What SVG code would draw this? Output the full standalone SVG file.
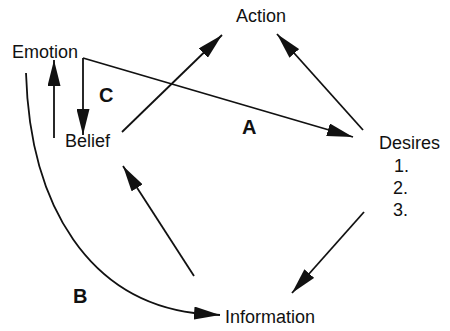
<svg xmlns="http://www.w3.org/2000/svg" width="450" height="331" viewBox="0 0 450 331">
<style>
.t{font-family:"Liberation Sans",Arial,sans-serif;font-size:18px;fill:#111}
.b{font-family:"Liberation Sans",Arial,sans-serif;font-size:20px;font-weight:bold;fill:#111}
.c{fill:none;stroke:#111;stroke-width:1.8}
</style>
<defs>
<marker id="ah" viewBox="0 0 26 13" refX="26" refY="6.5" markerWidth="26" markerHeight="13" markerUnits="userSpaceOnUse" orient="auto">
<path d="M0,0 L26,6.5 L0,13 z" fill="#111"/>
</marker>
</defs>
<rect width="450" height="331" fill="#fff"/>
<g id="connectors">
<path class="c" d="M83,58 L83,135" marker-end="url(#ah)"/>
<path class="c" d="M83,58 L353,137" marker-end="url(#ah)"/>
<path class="c" d="M54,138 L54,60" marker-end="url(#ah)"/>
<path class="c" d="M122,132 L222,35" marker-end="url(#ah)"/>
<path class="c" d="M363,130 L277,34" marker-end="url(#ah)"/>
<path class="c" d="M364,212 L292,293" marker-end="url(#ah)"/>
<path class="c" d="M194,276 L123,166" marker-end="url(#ah)"/>
<path class="c" d="M26,73 C30,210 92,300 194,313 L220,315" marker-end="url(#ah)"/>
</g>
<g id="labels">
<text class="b" x="99" y="102">C</text>
<text class="b" x="242" y="134">A</text>
<text class="b" x="73" y="303">B</text>
</g>
<g id="emotion"><text class="t" x="12" y="58">Emotion</text></g>
<g id="action"><text class="t" x="236" y="22">Action</text></g>
<g id="belief"><text class="t" x="65" y="147">Belief</text></g>
<g id="desires">
<text class="t" x="379" y="149">Desires</text>
<text class="t" x="394" y="172">1.</text>
<text class="t" x="393" y="194">2.</text>
<text class="t" x="393" y="216">3.</text>
</g>
<g id="information"><text class="t" x="225" y="323">Information</text></g>
</svg>
